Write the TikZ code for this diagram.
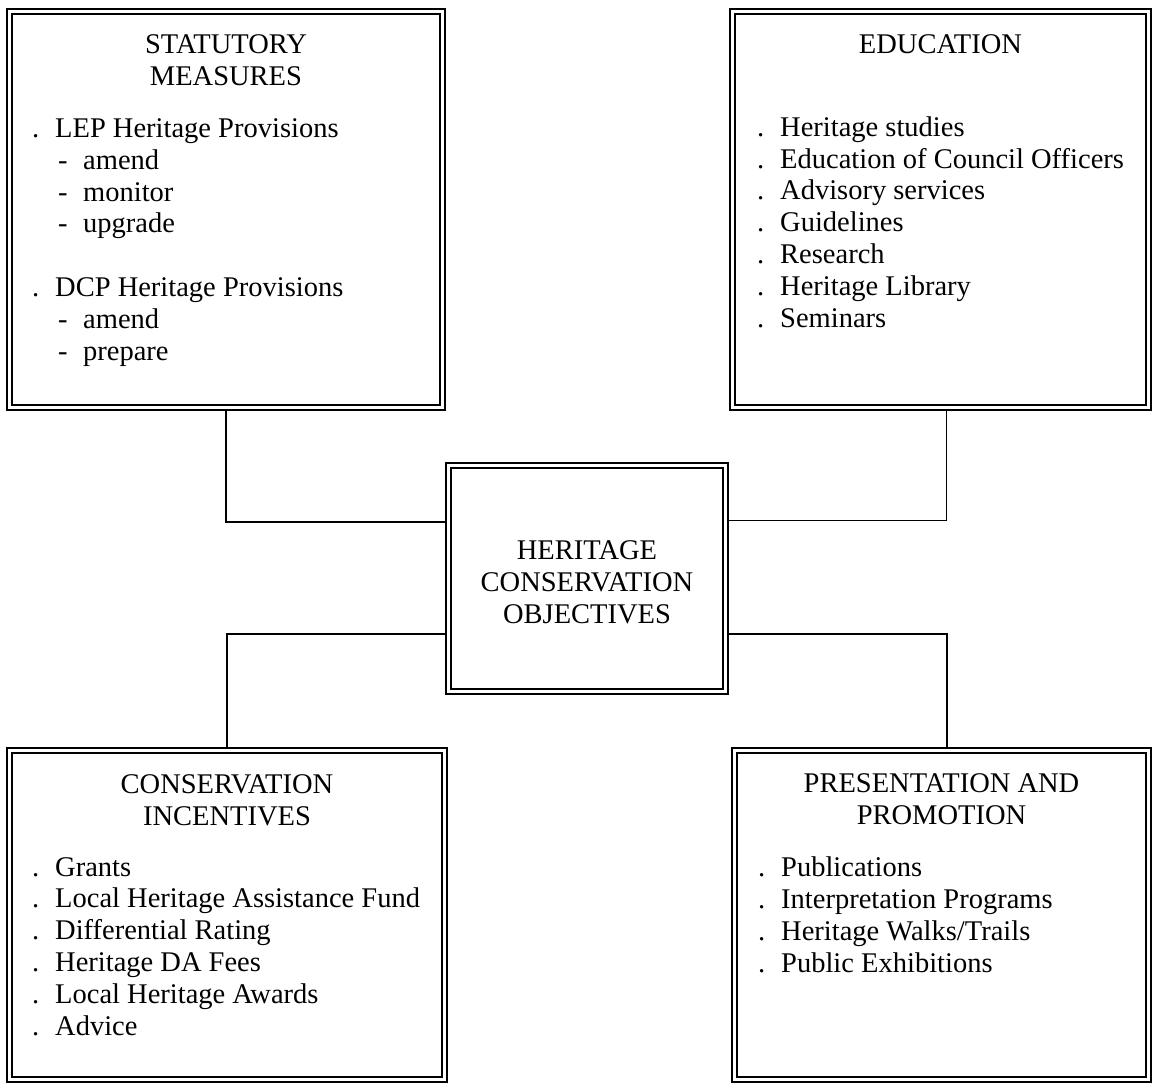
\documentclass[tikz,border=0pt]{standalone}
\usepackage{fontspec}
\setmainfont{Liberation Serif}
\newcommand{\dotitem}[1]{\makebox[23pt][l]{.}#1}
\newcommand{\dashitem}[1]{\hspace*{26pt}\makebox[25pt][l]{-}#1}
\begin{document}
\begin{tikzpicture}[x=1pt, y=-1pt,
    panel/.style = {draw, line width=1.8pt, outer sep=0pt, inner sep=0pt},
    rim/.style = {line width=1.1pt},
    head/.style = {align=center, anchor=base, inner sep=0pt, font=\fontsize{28.5}{31.7}\selectfont},
    list/.style = {align=left, anchor=base west, inner sep=0pt, font=\fontsize{28.5}{31.8}\selectfont},
    link/.style = {line width=1.4pt}]
    \useasboundingbox (0,0) rectangle (1153,1085);
    % boxes
    \node[panel, minimum width=438pt, minimum height=401pt] (stat) at (226,209.5) {};
    \node[panel, minimum width=421pt, minimum height=401pt] (edu) at (940.5,209.5) {};
    \node[panel, minimum width=282pt, minimum height=231pt] (obj) at (587,578.5) {};
    \node[panel, minimum width=440pt, minimum height=334pt] (inc) at (227,915) {};
    \node[panel, minimum width=419pt, minimum height=334pt] (pres) at (941.5,915) {};
    \foreach \b in {stat,edu,obj,inc,pres}
        \draw[rim] ([xshift=5pt,yshift=-5pt]\b.north west) rectangle ([xshift=-5pt,yshift=5pt]\b.south east);
    % texts (anchored on the last line)
    \node[head] (stathead) at (226,85) {STATUTORY\\MEASURES};
    \node[list] (statlist) at (32,360) {\dotitem{LEP Heritage Provisions}\\
        \dashitem{amend}\\ \dashitem{monitor}\\ \dashitem{upgrade}\\[31.8pt]
        \dotitem{DCP Heritage Provisions}\\ \dashitem{amend}\\ \dashitem{prepare}};
    \node[head] (eduhead) at (940.5,53) {EDUCATION};
    \node[list] (edulist) at (757,327) {\dotitem{Heritage studies}\\
        \dotitem{Education of Council Officers}\\ \dotitem{Advisory services}\\
        \dotitem{Guidelines}\\ \dotitem{Research}\\ \dotitem{Heritage Library}\\
        \dotitem{Seminars}};
    \node[head] (objhead) at (587,623) {HERITAGE\\CONSERVATION\\OBJECTIVES};
    \node[head] (inchead) at (227,825) {CONSERVATION\\INCENTIVES};
    \node[list] (inclist) at (32,1035) {\dotitem{Grants}\\
        \dotitem{Local Heritage Assistance Fund}\\ \dotitem{Differential Rating}\\
        \dotitem{Heritage DA Fees}\\ \dotitem{Local Heritage Awards}\\ \dotitem{Advice}};
    \node[head] (preshead) at (941.5,824) {PRESENTATION AND\\PROMOTION};
    \node[list] (preslist) at (758,972) {\dotitem{Publications}\\
        \dotitem{Interpretation Programs}\\ \dotitem{Heritage Walks/Trails}\\
        \dotitem{Public Exhibitions}};
    % connectors
    \draw[link] (stat.south) |- ([yshift=56.5pt]obj.west);
    \draw[link] ([xshift=6pt]edu.south) |- ([yshift=58pt]obj.east);
    \draw[link] ([yshift=-55.5pt]obj.west) -| (inc.north);
    \draw[link] ([yshift=-55.5pt]obj.east) -| ([xshift=5.5pt]pres.north);
\end{tikzpicture}
\end{document}
